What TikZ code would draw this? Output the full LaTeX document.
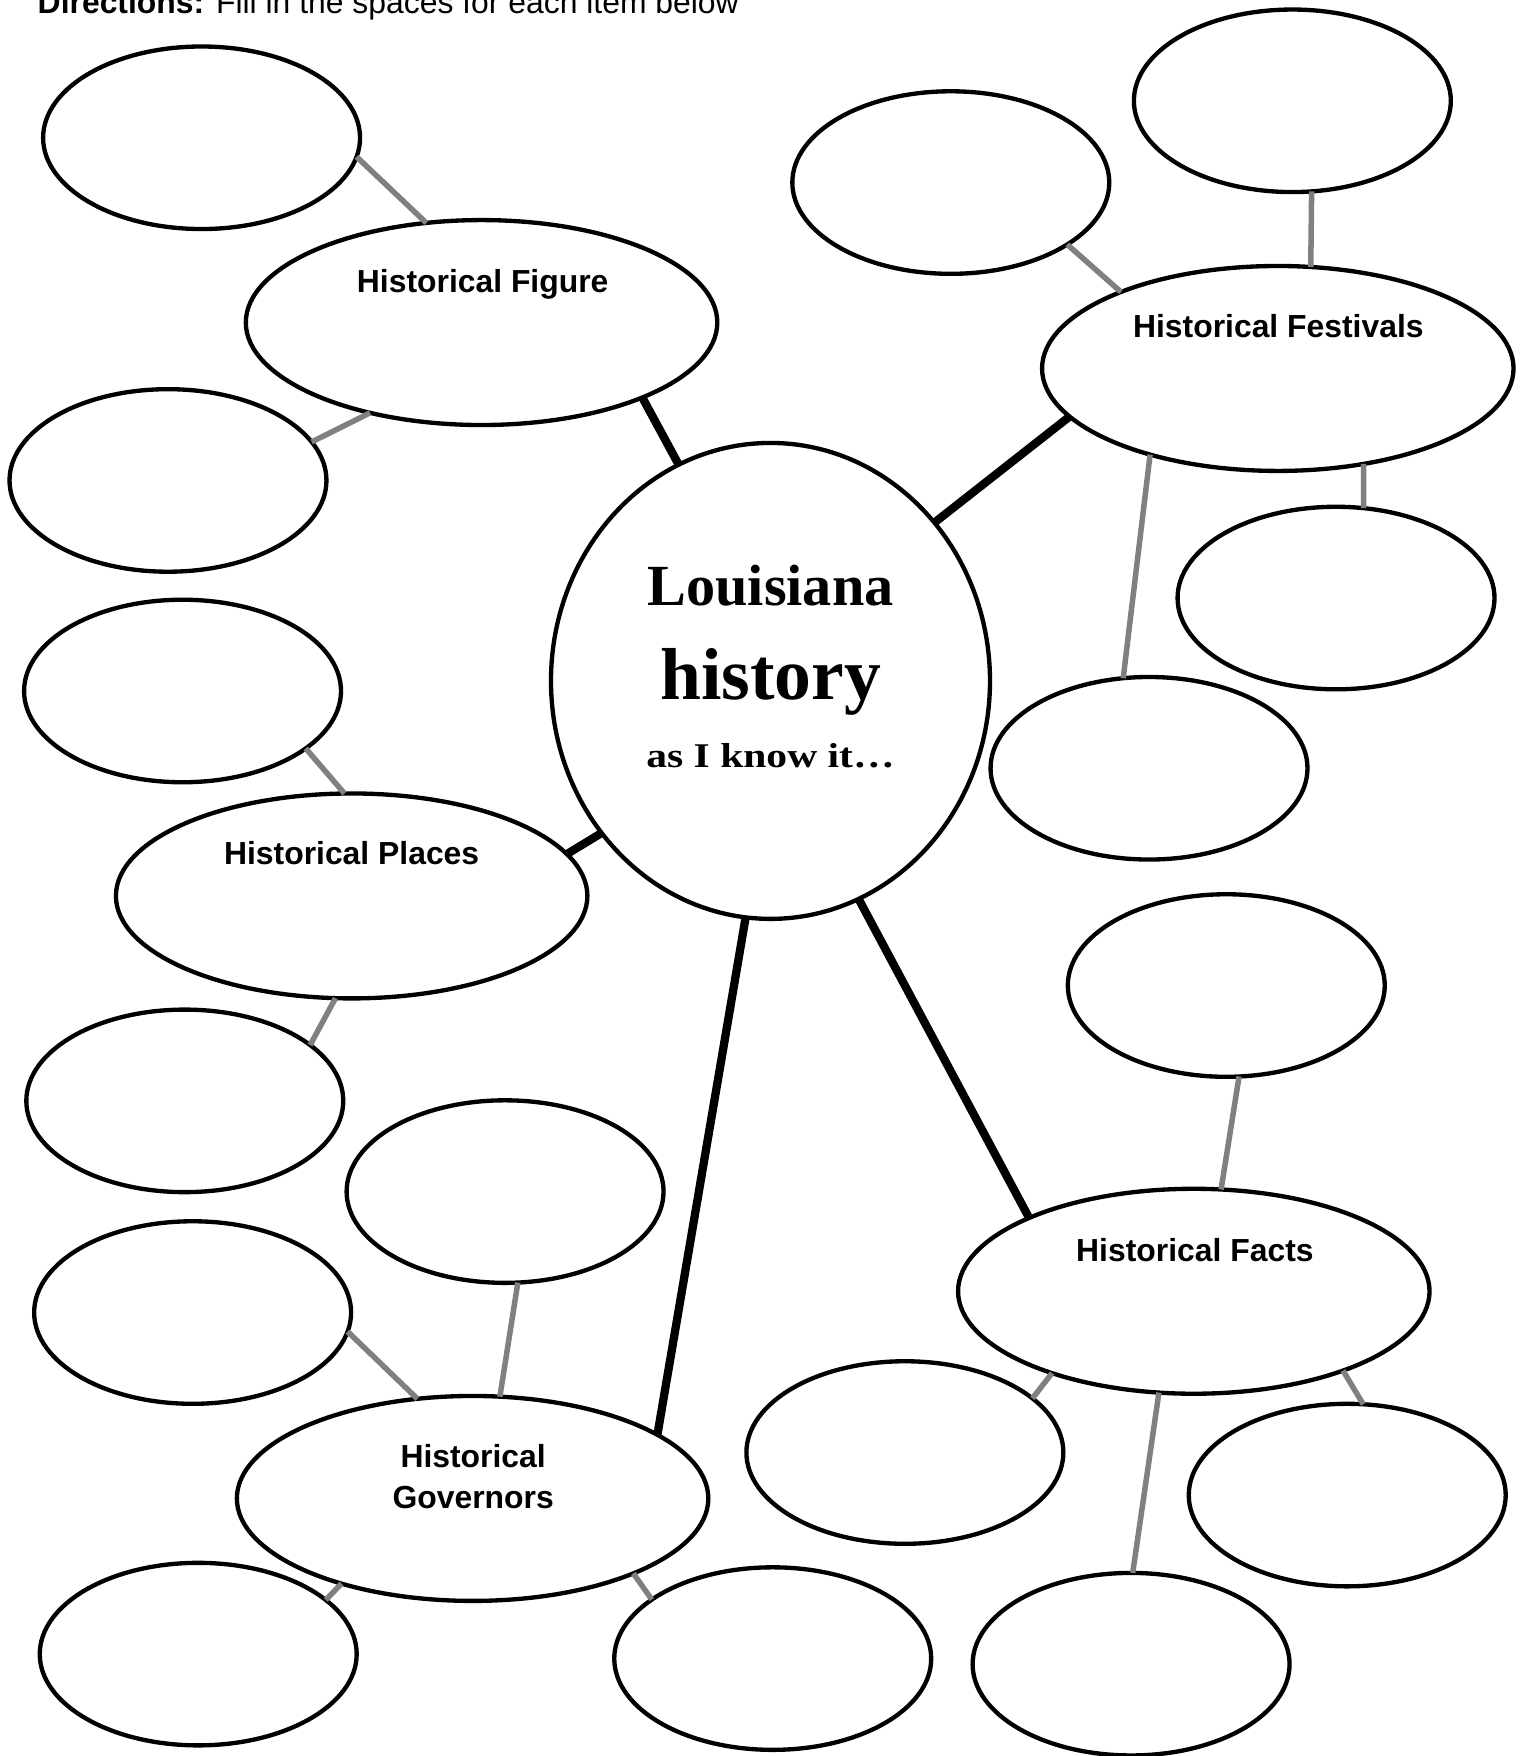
\documentclass[tikz,border=0pt]{standalone}
\usepackage{fontspec}
\setmainfont{Liberation Serif}
\setsansfont{Liberation Sans}
\newfontfamily\wideserif[FakeStretch=1.2]{Liberation Serif}
\usetikzlibrary{shapes.geometric}

\begin{document}
\begin{tikzpicture}[x=0.1mm, y=-0.1mm,
	bubble/.style={draw, ellipse, line width=1.1pt, inner sep=0pt, outer sep=0pt, minimum width=28.3mm, minimum height=16.3mm},
	topic/.style={bubble, minimum width=42.1mm, minimum height=18.3mm},
	caption/.style={inner sep=0pt, anchor=base, font=\sffamily\bfseries\fontsize{8.1}{10}\selectfont},
	spoke/.style={line width=2.1pt},
	twig/.style={line width=1.4pt, gray}]
	\useasboundingbox (0,0) rectangle (1366,1568);

	\node[inner sep=0pt, anchor=base west, font=\sffamily\fontsize{8.1}{10}\selectfont] (dir) at (33,12) {\textbf{Directions:} Fill in the spaces for each item below};

	% middle
	\node[bubble, minimum width=39.2mm, minimum height=42.5mm] (lh) at (688,608) {};
	\node[inner sep=0pt, anchor=base, font=\bfseries\fontsize{14.8}{17}\selectfont] (lh1) at (688,541) {Louisiana};
	\node[inner sep=0pt, anchor=base, font=\bfseries\fontsize{18.7}{22}\selectfont] (lh2) at (688,624.5) {history};
	\node[inner sep=0pt, anchor=base, font=\wideserif\bfseries\fontsize{8.8}{10}\selectfont] (lh3) at (688,685) {as I know it\ldots};

	% figure
	\node[topic]	(fig)	at (430,288) {};
	\node[caption]	at (431,261) {Historical Figure};
	\node[bubble]	(fig1)	at (180,123) {};
	\node[bubble]	(fig2)	at (150,429) {};

	% places
	\node[topic]	(place)	at (314,800) {};
	\node[caption]	at (314,772) {Historical Places};
	\node[bubble]	(place1)	at (163,617) {};
	\node[bubble]	(place2)	at (165,983) {};

	% governors
	\node[topic]	(gov)	at (422,1338) {};
	\node[caption]	at (422.5,1310) {Historical};
	\node[caption]	at (422.5,1347) {Governors};
	\node[bubble]	(gov1)	at (451,1064) {};
	\node[bubble]	(gov2)	at (172,1172) {};
	\node[bubble]	(gov3)	at (177,1477) {};
	\node[bubble]	(gov4)	at (690,1481) {};

	% festivals
	\node[topic]	(fest)	at (1141,329) {};
	\node[caption]	at (1141.5,301) {Historical Festivals};
	\node[bubble]	(fest1)	at (849,163) {};
	\node[bubble]	(fest2)	at (1154,90) {};
	\node[bubble]	(fest3)	at (1193,534) {};
	\node[bubble]	(fest4)	at (1026,686) {};

	% facts
	\node[topic]	(fact)	at (1066,1153) {};
	\node[caption]	at (1067,1126) {Historical Facts};
	\node[bubble]	(fact1)	at (1095,880) {};
	\node[bubble]	(fact2)	at (808,1297) {};
	\node[bubble]	(fact3)	at (1203,1335) {};
	\node[bubble]	(fact4)	at (1010,1486) {};

	\draw[spoke] (lh.113) -- (fig.-25);
	\draw[spoke] (lh.44) -- (fest.193);
	\draw[spoke] (lh.222) -- (place.11);
	\draw[spoke] (lh.264) -- (gov.19);
	\draw[spoke] (lh.-68) -- (fact.156);

	\draw[twig] (fig1.-7) -- (fig.119);
	\draw[twig] (fig2.15) -- (fig.219);
	\draw[twig] (place1.-25) -- (place.94);
	\draw[twig] (place.261) -- (place2.24);
	\draw[twig] (gov2.-7) -- (gov.119);
	\draw[twig] (gov1.-82) -- (gov.75);
	\draw[twig] (gov.213) -- (gov3.23);
	\draw[twig] (gov.-25) -- (gov4.154);
	\draw[twig] (fest1.-28) -- (fest.154);
	\draw[twig] (fest2.-78) -- (fest.72);
	\draw[twig] (fest.-48) -- (fest3.73);
	\draw[twig] (fest.214) -- (fest4.106);
	\draw[twig] (fact1.-82) -- (fact.75);
	\draw[twig] (fact.210) -- (fact2.23);
	\draw[twig] (fact.-28) -- (fact3.80);
	\draw[twig] (fact.251) -- (fact4.89);
\end{tikzpicture}
\end{document}
